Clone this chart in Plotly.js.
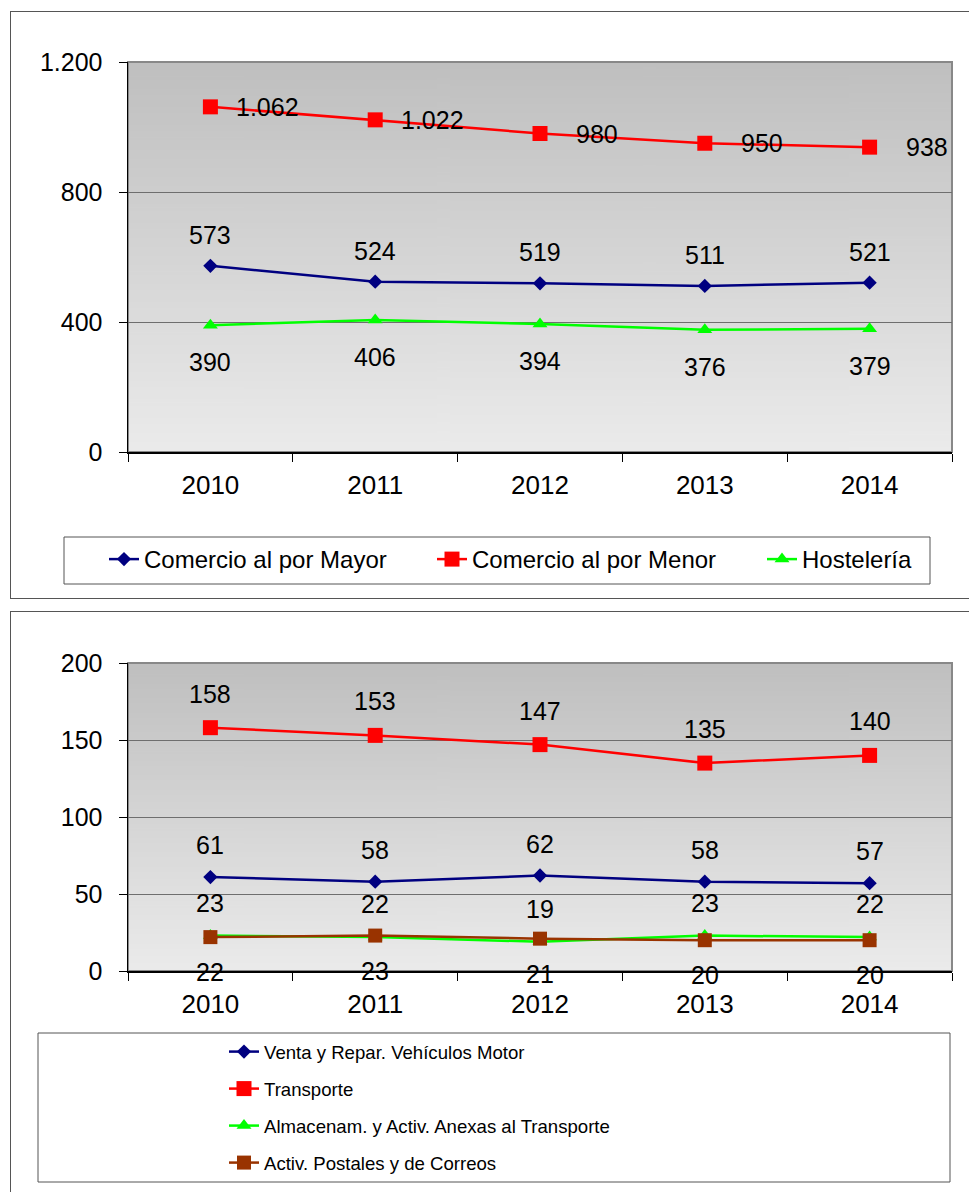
<!DOCTYPE html>
<html><head><meta charset="utf-8">
<script src="https://cdn.plot.ly/plotly-3.0.1.min.js"></script>
<style>
html,body{margin:0;padding:0;background:#fff;width:969px;height:1192px;overflow:hidden;position:relative;}
.frame{position:absolute;border:1px solid #555;box-sizing:border-box;}
#c1{position:absolute;left:0;top:0;width:969px;height:598px;}
#c2{position:absolute;left:0;top:600px;width:969px;height:592px;}
</style></head>
<body>
<div class="frame" style="left:10px;top:11px;width:980px;height:588px;"></div>
<div class="frame" style="left:10px;top:611px;width:980px;height:600px;"></div>
<div id="c1"></div>
<div id="c2"></div>
<script>
// ---- data ----
const years = ['2010','2011','2012','2013','2014'];

const top_names = ['Comercio al por Mayor','Comercio al por Menor','Hostelería'];
const mayor = [573, 524, 519, 511, 521];
const menor = [1062, 1022, 980, 950, 938];
const hosteleria = [390, 406, 394, 376, 379];

const bot_names = ['Venta y Repar. Vehículos Motor','Transporte','Almacenam. y Activ. Anexas al Transporte','Activ. Postales y de Correos'];
const venta = [61, 58, 62, 58, 57];
const transporte = [158, 153, 147, 135, 140];
const almacenam = [23, 22, 19, 23, 22];
const postales = [22, 23, 21, 20, 20];

const topTicks = [0, 400, 800, 1200];
const botTicks = [0, 50, 100, 150, 200];

// ---- helpers ----
const FONT = 'Arial, "Liberation Sans", sans-serif';
function fmt(v){ return String(v).replace(/\B(?=(\d{3})+(?!\d))/g, '.'); }

function gradientURL(){
  const c = document.createElement('canvas'); c.width = 4; c.height = 256;
  const g = c.getContext('2d');
  const lg = g.createLinearGradient(0,0,0,256);
  lg.addColorStop(0,'#bfbfbf'); lg.addColorStop(1,'#ebebeb');
  g.fillStyle = lg; g.fillRect(0,0,4,256);
  return c.toDataURL();
}
const GRAD = gradientURL();

function series(name, y, color, symbol, msize, leg){
  return {type:'scatter', mode:'lines+markers', x:years, y:y, name:name, legend:leg,
    line:{color:color, width:2.5},
    marker:{symbol:symbol, size:msize, color:color, line:{width:0}},
    cliponaxis:false};
}
function labels(y, xs, ys){
  return y.map((v,i)=>({x:i, y:v, xref:'x', yref:'y', text:fmt(v), showarrow:false,
     xshift:xs, yshift:ys, font:{family:FONT, size:25, color:'#000'}}));
}

function baseLayout(W,H,m,range,ticks){
  const pw = W-m.l-m.r, ph = H-m.t-m.b;
  return {
    width:W, height:H, margin:{l:m.l,r:m.r,t:m.t,b:m.b,pad:0,autoexpand:false},
    paper_bgcolor:'rgba(0,0,0,0)', plot_bgcolor:'rgba(0,0,0,0)',
    separators:',.',
    font:{family:FONT, size:24, color:'#000'},
    xaxis:{type:'category', range:[-0.5,4.5], tickson:'boundaries', ticks:'outside', ticklen:8,
      tickcolor:'#000', tickwidth:1, showline:true, linecolor:'#000', linewidth:1.5,
      showgrid:false, zeroline:false, ticklabelstandoff:9,
      tickfont:{family:FONT,size:26,color:'#000'}, fixedrange:true},
    yaxis:{range:range, tickvals:ticks, ticks:'outside', ticklen:8, tickcolor:'#000', tickwidth:1,
      showline:true, linecolor:'#000', linewidth:1.5, showgrid:true, gridcolor:'#6e6e6e', gridwidth:1,
      zeroline:false, separatethousands:true, ticklabelstandoff:11,
      tickfont:{family:FONT,size:25,color:'#000'}, fixedrange:true},
    images:[{source:GRAD, xref:'paper', yref:'paper', x:0, y:1, sizex:1, sizey:1,
      sizing:'stretch', xanchor:'left', yanchor:'top', layer:'below'}],
    shapes:[{type:'rect', xref:'paper', yref:'paper', x0:0, x1:1, y0:0, y1:1,
      line:{color:'#888', width:2}, fillcolor:'rgba(0,0,0,0)', layer:'below'}],
    px:(p)=>(p-m.l)/pw, py:(p)=>(H-m.b-p)/ph
  };
}
function legendAt(x, y, font){
  return {orientation:'v', x:x, y:y, xanchor:'left', yanchor:'top',
     bgcolor:'rgba(0,0,0,0)', borderwidth:0, font:font, itemclick:false};
}

// ---- chart 1 ----
(function(){
  const W=969,H=598, m={l:128,r:17,t:62,b:146};
  const L = baseLayout(W,H,m,[0,1200],topTicks);
  const px=L.px, py=L.py; delete L.px; delete L.py;
  L.shapes.push({type:'rect', xref:'paper', yref:'paper', x0:px(64), x1:px(930), y0:py(584), y1:py(537),
     line:{color:'#555',width:1}, fillcolor:'#fff', layer:'below'});
  L.showlegend = true;
  const lf = {family:FONT,size:24,color:'#000'};
  L.legend  = legendAt(px(104), py(537), lf);
  L.legend2 = legendAt(px(432), py(537), lf);
  L.legend3 = legendAt(px(762), py(537), lf);
  L.annotations = [].concat(labels(mayor,0,31), labels(menor,57,0), labels(hosteleria,0,-37));
  const data = [
    series(top_names[0], mayor, '#000080', 'diamond', 11, 'legend'),
    series(top_names[1], menor, '#ff0000', 'square', 15, 'legend2'),
    series(top_names[2], hosteleria, '#00ff00', 'triangle-up', 13, 'legend3')
  ];
  Plotly.newPlot('c1', data, L, {staticPlot:true});
})();

// ---- chart 2 ----
(function(){
  const W=969,H=592, m={l:128,r:17,t:63,b:221};
  const L = baseLayout(W,H,m,[0,200],botTicks);
  const px=L.px, py=L.py; delete L.px; delete L.py;
  L.shapes.push({type:'rect', xref:'paper', yref:'paper', x0:px(38), x1:px(950), y0:py(582), y1:py(433),
     line:{color:'#555',width:1}, fillcolor:'#fff', layer:'below'});
  L.showlegend = true;
  const lf = {family:FONT,size:18.6,color:'#000'};
  L.legend  = legendAt(px(224), py(433), lf);
  L.legend2 = legendAt(px(224), py(470), lf);
  L.legend3 = legendAt(px(224), py(507), lf);
  L.legend4 = legendAt(px(224), py(544), lf);
  L.annotations = [].concat(labels(venta,0,32), labels(transporte,0,34), labels(almacenam,0,33), labels(postales,0,-35));
  const data = [
    series(bot_names[0], venta, '#000080', 'diamond', 11, 'legend'),
    series(bot_names[1], transporte, '#ff0000', 'square', 15, 'legend2'),
    series(bot_names[2], almacenam, '#00ff00', 'triangle-up', 13, 'legend3'),
    series(bot_names[3], postales, '#993300', 'square', 14, 'legend4')
  ];
  Plotly.newPlot('c2', data, L, {staticPlot:true});
})();
</script>
</body></html>
